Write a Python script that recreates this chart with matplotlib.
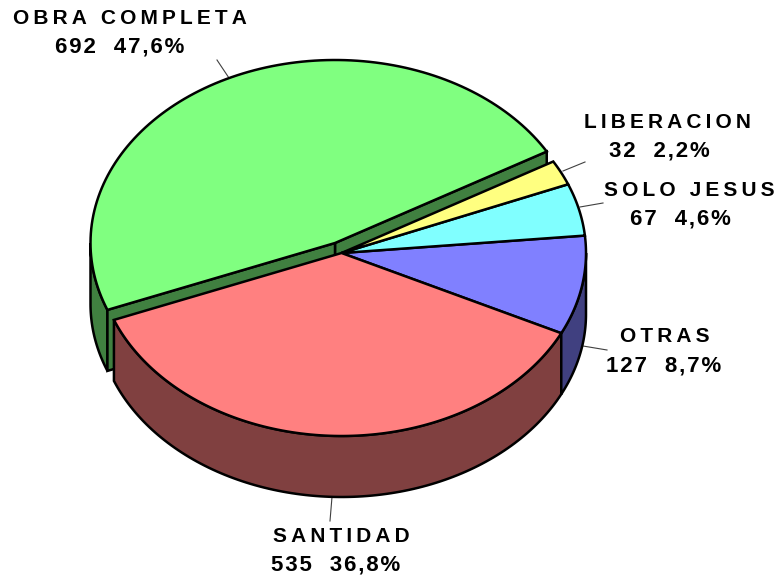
import numpy as np
import matplotlib
matplotlib.use("Agg")
import matplotlib.pyplot as plt

names = ["OTRAS", "SOLO JESUS", "LIBERACION", "OBRA COMPLETA", "SANTIDAD"]
values = [127, 67, 32, 692, 535]
percents = ["8,7%", "4,6%", "2,2%", "47,6%", "36,8%"]
top_colors = ["#8080ff", "#80ffff", "#ffff80", "#80ff80", "#ff8080"]
side_colors = ["#404080", "#408080", "#808040", "#408040", "#804040"]

plt.rcParams["font.family"] = ["Liberation Sans", "DejaVu Sans"]

fig = plt.figure(figsize=(7.75, 5.75), dpi=100)
ax = fig.add_axes([0, 0, 1, 1])
ax.set_xlim(0, 775)
ax.set_ylim(575, 0)
ax.axis("off")

rx, ry = 244.5, 183
depth = 61
center = (341.5, 253)
pulled = (335, 243)   # obra completa is pulled out
start = -26
lw = 1.8

fr = np.array(values) / sum(values) * 360
edges = start + np.concatenate(([0], np.cumsum(fr)))


def arc(c, t0, t1, dy=0):
    t = np.radians(np.linspace(t0, t1, 120))
    return c[0] + rx * np.cos(t), c[1] - ry * np.sin(t) + dy


def side(c, t0, t1, col, z):
    x, y = arc(c, t0, t1)
    x2, y2 = arc(c, t1, t0, depth)
    ax.fill(np.r_[x, x2], np.r_[y, y2], fc=col, ec="k", lw=lw, zorder=z)


def top(c, t0, t1, col, z):
    x, y = arc(c, t0, t1)
    ax.fill(np.r_[c[0], x], np.r_[c[1], y], fc=col, ec="k", lw=lw, zorder=z)


# pulled out slice first, the rest sits in front of it
for t in (edges[3], edges[4]):
    x, y = arc(pulled, t, t)
    px = [pulled[0], x[0], x[0], pulled[0]]
    py = [pulled[1], y[0], y[0] + depth, pulled[1] + depth]
    ax.fill(px, py, fc=side_colors[3], ec="k", lw=lw, zorder=2)
side(pulled, 180, edges[4], side_colors[3], 1)
top(pulled, edges[3], edges[4], top_colors[3], 3)

side(center, edges[4], edges[5], side_colors[4], 4)
side(center, edges[0] + 360, 360, side_colors[0], 4)
for i in [0, 1, 2, 4]:
    top(center, edges[i], edges[i + 1], top_colors[i], 5)

# leader lines
lead_x = [(563, 585), (580, 603), (583, 607), (217, 229), (332, 330)]
lead_y = [(171, 162), (207, 203), (346, 350), (60, 78), (497, 521)]
for lx, ly in zip(lead_x, lead_y):
    ax.plot(lx, ly, color="#404040", lw=0.8, zorder=0)

lab_x = [665, 689, 667, 130, 341]
lab_y = [337, 191, 122, 19, 536]
val_x = [664, 680, 659, 120, 336]
val_y = [366, 219, 151, 47, 565]
for i, n in enumerate(names):
    ax.text(lab_x[i], lab_y[i], "\u2009".join(n), ha="center", va="center",
            fontsize=15, fontweight="bold", zorder=6)
    v = "\u200a".join(str(values[i]) + "  " + percents[i])
    ax.text(val_x[i], val_y[i], v, ha="center", va="center",
            fontsize=16, fontweight="bold", zorder=6)

fig.savefig("out.png", dpi=100)
